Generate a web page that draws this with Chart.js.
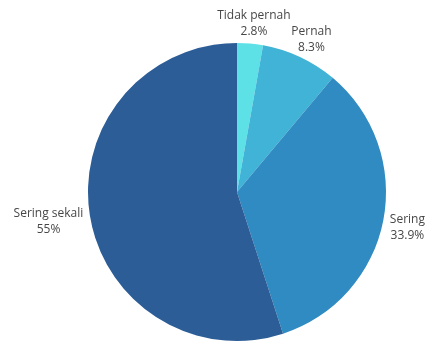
<!DOCTYPE html>
<html>
<head>
<meta charset="utf-8">
<script src="https://cdn.jsdelivr.net/npm/chart.js@4/dist/chart.umd.min.js"></script>
<style>
  html, body { margin: 0; padding: 0; background: #ffffff; }
  #wrap { width: 427px; height: 342px; position: relative; }
</style>
</head>
<body>
<div id="wrap"><canvas id="pie"></canvas></div>
<script>
// Survey answers and their shares (percent)
const categories = ['Tidak pernah', 'Pernah', 'Sering', 'Sering sekali'];
const shares = [2.8, 8.3, 33.9, 55];
const sliceColors = ['#5de0e6', '#40b3d6', '#2f8bc1', '#2c5d97'];

// Draws "name / value%" outside each slice, pushed out along the slice's mid-angle
const outerLabels = {
  id: 'outerLabels',
  afterDatasetsDraw(chart) {
    const ctx = chart.ctx;
    const meta = chart.getDatasetMeta(0);
    const fontSize = 12;
    const lineH = 16;
    ctx.save();
    ctx.font = fontSize + 'px "Open Sans", sans-serif';
    ctx.fillStyle = '#474747';
    ctx.textAlign = 'center';
    ctx.textBaseline = 'middle';
    meta.data.forEach((arc, i) => {
      const mid = (arc.startAngle + arc.endAngle) / 2;
      const dx = Math.cos(mid), dy = Math.sin(mid);
      const r = arc.outerRadius + 7;
      const ax = arc.x + dx * r, ay = arc.y + dy * r;
      const lines = [categories[i], String(shares[i]) + '%'];
      const w = Math.max(...lines.map(t => ctx.measureText(t).width));
      const h = lineH * lines.length;
      const cx = ax + dx * w / 2;
      const cy = ay + dy * h / 2 + 3;
      lines.forEach((t, k) => {
        ctx.fillText(t, cx, cy + (k - (lines.length - 1) / 2) * lineH);
      });
    });
    ctx.restore();
  }
};

new Chart(document.getElementById('pie'), {
  type: 'pie',
  data: {
    labels: categories,
    datasets: [{
      data: shares,
      backgroundColor: sliceColors,
      borderWidth: 0
    }]
  },
  options: {
    responsive: true,
    maintainAspectRatio: false,
    animation: false,
    layout: { padding: { top: 43, bottom: 1, left: 88, right: 41 } },
    plugins: {
      legend: { display: false },
      tooltip: { enabled: false }
    }
  },
  plugins: [outerLabels]
});
</script>
</body>
</html>
